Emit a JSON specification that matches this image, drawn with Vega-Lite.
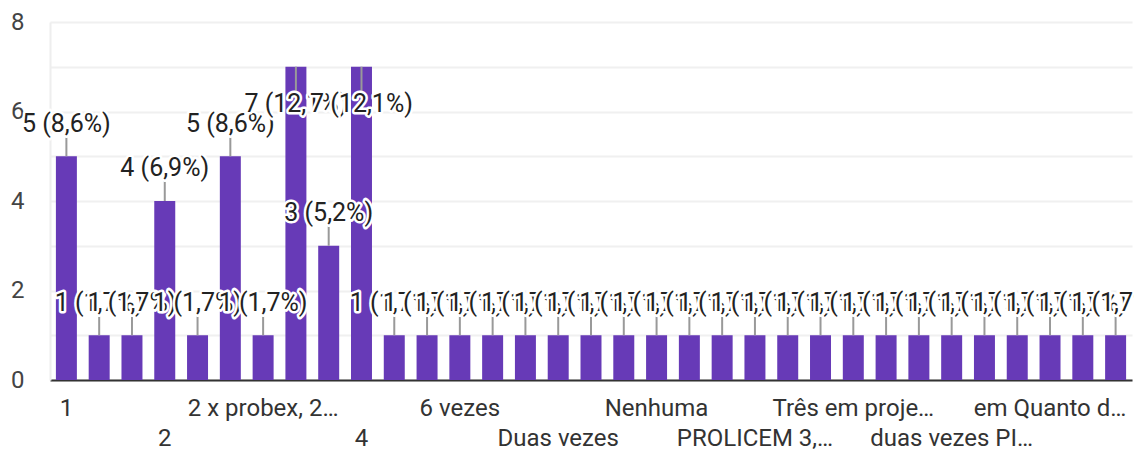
{
"$schema":"https://vega.github.io/schema/vega-lite/v6.json",
"width":1082,"height":358,
"autosize":{"type":"none"},
"padding":{"left":50,"top":22,"right":2,"bottom":70},
"background":"#ffffff",
"data":{"values":[
{"i":0,"c":"1","v":5,"t":"5 (8,6%)"},
{"i":1,"c":"1 PIBIC","v":1,"t":"1 (1,7%)"},
{"i":2,"c":"1 vez","v":1,"t":"1 (1,7%)"},
{"i":3,"c":"2","v":4,"t":"4 (6,9%)"},
{"i":4,"c":"2 PIBIC","v":1,"t":"1 (1,7%)"},
{"i":5,"c":"2 vezes","v":5,"t":"5 (8,6%)"},
{"i":6,"c":"2 x probex, 2…","v":1,"t":"1 (1,7%)"},
{"i":7,"c":"3","v":7,"t":"7 (12,1%)"},
{"i":8,"c":"3 vezes","v":3,"t":"3 (5,2%)"},
{"i":9,"c":"4","v":7,"t":"7 (12,1%)"},
{"i":10,"c":"4 vezes","v":1,"t":"1 (1,7%)"},
{"i":11,"c":"5","v":1,"t":"1 (1,7%)"},
{"i":12,"c":"6 vezes","v":1,"t":"1 (1,7%)"},
{"i":13,"c":"Apenas uma","v":1,"t":"1 (1,7%)"},
{"i":14,"c":"Cinco","v":1,"t":"1 (1,7%)"},
{"i":15,"c":"Duas vezes","v":1,"t":"1 (1,7%)"},
{"i":16,"c":"Duas, PIBIC","v":1,"t":"1 (1,7%)"},
{"i":17,"c":"Mais de 5","v":1,"t":"1 (1,7%)"},
{"i":18,"c":"Nenhuma","v":1,"t":"1 (1,7%)"},
{"i":19,"c":"Nenhuma vez","v":1,"t":"1 (1,7%)"},
{"i":20,"c":"PIBIC 2 vezes","v":1,"t":"1 (1,7%)"},
{"i":21,"c":"PROLICEM 3,…","v":1,"t":"1 (1,7%)"},
{"i":22,"c":"Quatro","v":1,"t":"1 (1,7%)"},
{"i":23,"c":"Três","v":1,"t":"1 (1,7%)"},
{"i":24,"c":"Três em proje…","v":1,"t":"1 (1,7%)"},
{"i":25,"c":"Três vezes","v":1,"t":"1 (1,7%)"},
{"i":26,"c":"Uma vez","v":1,"t":"1 (1,7%)"},
{"i":27,"c":"duas vezes PI…","v":1,"t":"1 (1,7%)"},
{"i":28,"c":"duas vezes, PIBIC","v":1,"t":"1 (1,7%)"},
{"i":29,"c":"duas, PIBIC e PROBEX","v":1,"t":"1 (1,7%)"},
{"i":30,"c":"em Quanto d…","v":1,"t":"1 (1,7%)"},
{"i":31,"c":"três","v":1,"t":"1 (1,7%)"},
{"i":32,"c":"uma vez","v":1,"t":"1 (1,7%)"}
]},
"transform":[
{"calculate":"datum.v >= 7 ? datum.v - 1.0 : datum.v + 0.55","as":"ly"},
{"calculate":"datum.v >= 7 ? datum.v - 0.54 : datum.v + 0.47","as":"l2"}
],
"encoding":{
"x":{"field":"c","type":"nominal","sort":null,"title":null,
"scale":{"paddingInner":0.36,"paddingOuter":0.18},
"axis":{"values":["1","2","2 x probex, 2…","4","6 vezes","Duas vezes","Nenhuma","PROLICEM 3,…","Três em proje…","duas vezes PI…","em Quanto d…"],
"labelExpr":"indexof(['2','4','Duas vezes','PROLICEM 3,…','duas vezes PI…'], datum.value) >= 0 ? ['', datum.label] : datum.label",
"labelAngle":0,"labelAlign":"center","labelBaseline":"top","labelLineHeight":30,"labelPadding":16,
"labelLimit":0,"labelOverlap":false,"labelFont":"Roboto","labelFontSize":24,"labelColor":"#333333",
"ticks":false,"domain":true,"domainColor":"#333333","domainWidth":2,"grid":false}}
},
"layer":[
{"mark":{"type":"bar","color":"#673ab7"},
 "encoding":{"y":{"field":"v","type":"quantitative","title":null,
  "scale":{"domain":[0,8],"nice":false},
  "axis":{"values":[0,1,2,3,4,5,6,7,8],"labelExpr":"datum.value % 2 == 0 ? datum.label : ''",
   "labelFont":"Roboto","labelFontSize":24,"labelColor":"#444444","labelPadding":26,
   "ticks":false,"domain":true,"domainColor":"#eeeeee","domainWidth":2,
   "grid":true,"gridColor":"#f0f0f0","gridWidth":2}}}},
{"mark":{"type":"rule","color":"#999999","strokeWidth":2},
 "encoding":{"y":{"field":"v","type":"quantitative"},"y2":{"field":"l2"}}},
{"encoding":{"y":{"field":"ly","type":"quantitative"},"text":{"field":"t","type":"nominal"}},
 "layer":[
{"transform":[{"filter":"datum.i==0"}],"mark":{"type":"text","fill":"#fff","stroke":"#fff","strokeWidth":5,"strokeJoin":"round"}},
{"transform":[{"filter":"datum.i==0"}],"mark":{"type":"text","fill":"#222"}},
{"transform":[{"filter":"datum.i==1"}],"mark":{"type":"text","fill":"#fff","stroke":"#fff","strokeWidth":5,"strokeJoin":"round"}},
{"transform":[{"filter":"datum.i==1"}],"mark":{"type":"text","fill":"#222"}},
{"transform":[{"filter":"datum.i==2"}],"mark":{"type":"text","fill":"#fff","stroke":"#fff","strokeWidth":5,"strokeJoin":"round"}},
{"transform":[{"filter":"datum.i==2"}],"mark":{"type":"text","fill":"#222"}},
{"transform":[{"filter":"datum.i==3"}],"mark":{"type":"text","fill":"#fff","stroke":"#fff","strokeWidth":5,"strokeJoin":"round"}},
{"transform":[{"filter":"datum.i==3"}],"mark":{"type":"text","fill":"#222"}},
{"transform":[{"filter":"datum.i==4"}],"mark":{"type":"text","fill":"#fff","stroke":"#fff","strokeWidth":5,"strokeJoin":"round"}},
{"transform":[{"filter":"datum.i==4"}],"mark":{"type":"text","fill":"#222"}},
{"transform":[{"filter":"datum.i==5"}],"mark":{"type":"text","fill":"#fff","stroke":"#fff","strokeWidth":5,"strokeJoin":"round"}},
{"transform":[{"filter":"datum.i==5"}],"mark":{"type":"text","fill":"#222"}},
{"transform":[{"filter":"datum.i==6"}],"mark":{"type":"text","fill":"#fff","stroke":"#fff","strokeWidth":5,"strokeJoin":"round"}},
{"transform":[{"filter":"datum.i==6"}],"mark":{"type":"text","fill":"#222"}},
{"transform":[{"filter":"datum.i==7"}],"mark":{"type":"text","fill":"#fff","stroke":"#fff","strokeWidth":5,"strokeJoin":"round"}},
{"transform":[{"filter":"datum.i==7"}],"mark":{"type":"text","fill":"#222"}},
{"transform":[{"filter":"datum.i==8"}],"mark":{"type":"text","fill":"#fff","stroke":"#fff","strokeWidth":5,"strokeJoin":"round"}},
{"transform":[{"filter":"datum.i==8"}],"mark":{"type":"text","fill":"#222"}},
{"transform":[{"filter":"datum.i==9"}],"mark":{"type":"text","fill":"#fff","stroke":"#fff","strokeWidth":5,"strokeJoin":"round"}},
{"transform":[{"filter":"datum.i==9"}],"mark":{"type":"text","fill":"#222"}},
{"transform":[{"filter":"datum.i==10"}],"mark":{"type":"text","fill":"#fff","stroke":"#fff","strokeWidth":5,"strokeJoin":"round"}},
{"transform":[{"filter":"datum.i==10"}],"mark":{"type":"text","fill":"#222"}},
{"transform":[{"filter":"datum.i==11"}],"mark":{"type":"text","fill":"#fff","stroke":"#fff","strokeWidth":5,"strokeJoin":"round"}},
{"transform":[{"filter":"datum.i==11"}],"mark":{"type":"text","fill":"#222"}},
{"transform":[{"filter":"datum.i==12"}],"mark":{"type":"text","fill":"#fff","stroke":"#fff","strokeWidth":5,"strokeJoin":"round"}},
{"transform":[{"filter":"datum.i==12"}],"mark":{"type":"text","fill":"#222"}},
{"transform":[{"filter":"datum.i==13"}],"mark":{"type":"text","fill":"#fff","stroke":"#fff","strokeWidth":5,"strokeJoin":"round"}},
{"transform":[{"filter":"datum.i==13"}],"mark":{"type":"text","fill":"#222"}},
{"transform":[{"filter":"datum.i==14"}],"mark":{"type":"text","fill":"#fff","stroke":"#fff","strokeWidth":5,"strokeJoin":"round"}},
{"transform":[{"filter":"datum.i==14"}],"mark":{"type":"text","fill":"#222"}},
{"transform":[{"filter":"datum.i==15"}],"mark":{"type":"text","fill":"#fff","stroke":"#fff","strokeWidth":5,"strokeJoin":"round"}},
{"transform":[{"filter":"datum.i==15"}],"mark":{"type":"text","fill":"#222"}},
{"transform":[{"filter":"datum.i==16"}],"mark":{"type":"text","fill":"#fff","stroke":"#fff","strokeWidth":5,"strokeJoin":"round"}},
{"transform":[{"filter":"datum.i==16"}],"mark":{"type":"text","fill":"#222"}},
{"transform":[{"filter":"datum.i==17"}],"mark":{"type":"text","fill":"#fff","stroke":"#fff","strokeWidth":5,"strokeJoin":"round"}},
{"transform":[{"filter":"datum.i==17"}],"mark":{"type":"text","fill":"#222"}},
{"transform":[{"filter":"datum.i==18"}],"mark":{"type":"text","fill":"#fff","stroke":"#fff","strokeWidth":5,"strokeJoin":"round"}},
{"transform":[{"filter":"datum.i==18"}],"mark":{"type":"text","fill":"#222"}},
{"transform":[{"filter":"datum.i==19"}],"mark":{"type":"text","fill":"#fff","stroke":"#fff","strokeWidth":5,"strokeJoin":"round"}},
{"transform":[{"filter":"datum.i==19"}],"mark":{"type":"text","fill":"#222"}},
{"transform":[{"filter":"datum.i==20"}],"mark":{"type":"text","fill":"#fff","stroke":"#fff","strokeWidth":5,"strokeJoin":"round"}},
{"transform":[{"filter":"datum.i==20"}],"mark":{"type":"text","fill":"#222"}},
{"transform":[{"filter":"datum.i==21"}],"mark":{"type":"text","fill":"#fff","stroke":"#fff","strokeWidth":5,"strokeJoin":"round"}},
{"transform":[{"filter":"datum.i==21"}],"mark":{"type":"text","fill":"#222"}},
{"transform":[{"filter":"datum.i==22"}],"mark":{"type":"text","fill":"#fff","stroke":"#fff","strokeWidth":5,"strokeJoin":"round"}},
{"transform":[{"filter":"datum.i==22"}],"mark":{"type":"text","fill":"#222"}},
{"transform":[{"filter":"datum.i==23"}],"mark":{"type":"text","fill":"#fff","stroke":"#fff","strokeWidth":5,"strokeJoin":"round"}},
{"transform":[{"filter":"datum.i==23"}],"mark":{"type":"text","fill":"#222"}},
{"transform":[{"filter":"datum.i==24"}],"mark":{"type":"text","fill":"#fff","stroke":"#fff","strokeWidth":5,"strokeJoin":"round"}},
{"transform":[{"filter":"datum.i==24"}],"mark":{"type":"text","fill":"#222"}},
{"transform":[{"filter":"datum.i==25"}],"mark":{"type":"text","fill":"#fff","stroke":"#fff","strokeWidth":5,"strokeJoin":"round"}},
{"transform":[{"filter":"datum.i==25"}],"mark":{"type":"text","fill":"#222"}},
{"transform":[{"filter":"datum.i==26"}],"mark":{"type":"text","fill":"#fff","stroke":"#fff","strokeWidth":5,"strokeJoin":"round"}},
{"transform":[{"filter":"datum.i==26"}],"mark":{"type":"text","fill":"#222"}},
{"transform":[{"filter":"datum.i==27"}],"mark":{"type":"text","fill":"#fff","stroke":"#fff","strokeWidth":5,"strokeJoin":"round"}},
{"transform":[{"filter":"datum.i==27"}],"mark":{"type":"text","fill":"#222"}},
{"transform":[{"filter":"datum.i==28"}],"mark":{"type":"text","fill":"#fff","stroke":"#fff","strokeWidth":5,"strokeJoin":"round"}},
{"transform":[{"filter":"datum.i==28"}],"mark":{"type":"text","fill":"#222"}},
{"transform":[{"filter":"datum.i==29"}],"mark":{"type":"text","fill":"#fff","stroke":"#fff","strokeWidth":5,"strokeJoin":"round"}},
{"transform":[{"filter":"datum.i==29"}],"mark":{"type":"text","fill":"#222"}},
{"transform":[{"filter":"datum.i==30"}],"mark":{"type":"text","fill":"#fff","stroke":"#fff","strokeWidth":5,"strokeJoin":"round"}},
{"transform":[{"filter":"datum.i==30"}],"mark":{"type":"text","fill":"#222"}},
{"transform":[{"filter":"datum.i==31"}],"mark":{"type":"text","fill":"#fff","stroke":"#fff","strokeWidth":5,"strokeJoin":"round"}},
{"transform":[{"filter":"datum.i==31"}],"mark":{"type":"text","fill":"#222"}},
{"transform":[{"filter":"datum.i==32"}],"mark":{"type":"text","fill":"#fff","stroke":"#fff","strokeWidth":5,"strokeJoin":"round"}},
{"transform":[{"filter":"datum.i==32"}],"mark":{"type":"text","fill":"#222"}}
 ]}
],
"config":{"view":{"stroke":null},"text":{"font":"Roboto","fontSize":25,"align":"center","baseline":"alphabetic"}}
}
